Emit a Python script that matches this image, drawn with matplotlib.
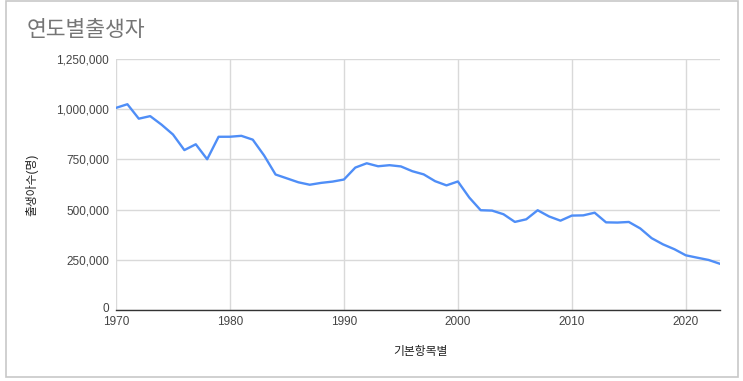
import matplotlib
matplotlib.use("Agg")
import matplotlib.pyplot as plt
from matplotlib.patches import Rectangle
from matplotlib.ticker import FuncFormatter
import matplotlib.transforms as mtransforms

years = list(range(1970, 2024))
births = [1006645, 1024773, 952780, 965521, 922823, 874030, 796331, 825339, 750728, 862669,
          862835, 867409, 848312, 769155, 674793, 655489, 636019, 623831, 633092, 639431,
          649738, 709275, 730678, 715826, 721185, 715020, 691226, 675394, 641594, 620668,
          640089, 559934, 496911, 495036, 476958, 438707, 451759, 496822, 465892, 444849,
          470171, 471265, 484550, 436455, 435435, 438420, 406243, 357771, 326822, 302676,
          272337, 260562, 249186, 230028]
x_ticks = [1970, 1980, 1990, 2000, 2010, 2020]
y_ticks = [0, 250000, 500000, 750000, 1000000, 1250000]
title = "연도별출생자"
x_label = "기본항목별"
y_label = "출생아수(명)"

plt.rcParams['font.family'] = ['Liberation Sans', 'Noto Sans CJK KR', 'DejaVu Sans']

W, H = 743, 381
fig = plt.figure(figsize=(W / 100, H / 100), dpi=100)
fig.patch.set_facecolor('white')

# chart frame
fig.patches.append(Rectangle((6 / W, 1 - 377 / H), (738 - 6) / W, (377 - 1) / H,
                             transform=fig.transFigure, fill=False,
                             edgecolor='#c8c8c8', linewidth=1.2))

ax = fig.add_axes([116 / W, 1 - 310 / H, (720 - 116) / W, (310 - 59) / H])
ax.plot(years, births, color='#4f8ef7', linewidth=1.7, solid_joinstyle='round')
ax.set_xlim(1970, 2023)
ax.set_ylim(0, 1250000)
ax.set_xticks(x_ticks)
ax.set_yticks(y_ticks)
ax.yaxis.set_major_formatter(FuncFormatter(lambda v, p: f"{int(v):,}"))
ax.grid(True, color='#d9d9d9', linewidth=1)
ax.set_axisbelow(True)
for s in ['top', 'right', 'left']:
    ax.spines[s].set_visible(False)
ax.spines['bottom'].set_color('#333333')
ax.spines['bottom'].set_linewidth(1)
ax.tick_params(axis='both', length=0, labelsize=8.5, colors='#444444')
ax.tick_params(axis='x', pad=4)
ax.tick_params(axis='y', pad=5)

fig.canvas.draw()
zero_lab = ax.get_yticklabels()[0]
zero_lab.set_transform(zero_lab.get_transform() +
                       mtransforms.ScaledTranslation(0, 3 / 100, fig.dpi_scale_trans))

fig.text(27 / W, 1 - 30 / H, title, fontsize=15.5, color='#757575', va='center', ha='left')
fig.text(420 / W, 1 - 352 / H, x_label, fontsize=8.5, color='#222222', ha='center', va='center')
fig.text(32 / W, 1 - 185 / H, y_label, fontsize=8.5, color='#222222', ha='center', va='center',
         rotation=90)

fig.savefig('out.png', dpi=100)
